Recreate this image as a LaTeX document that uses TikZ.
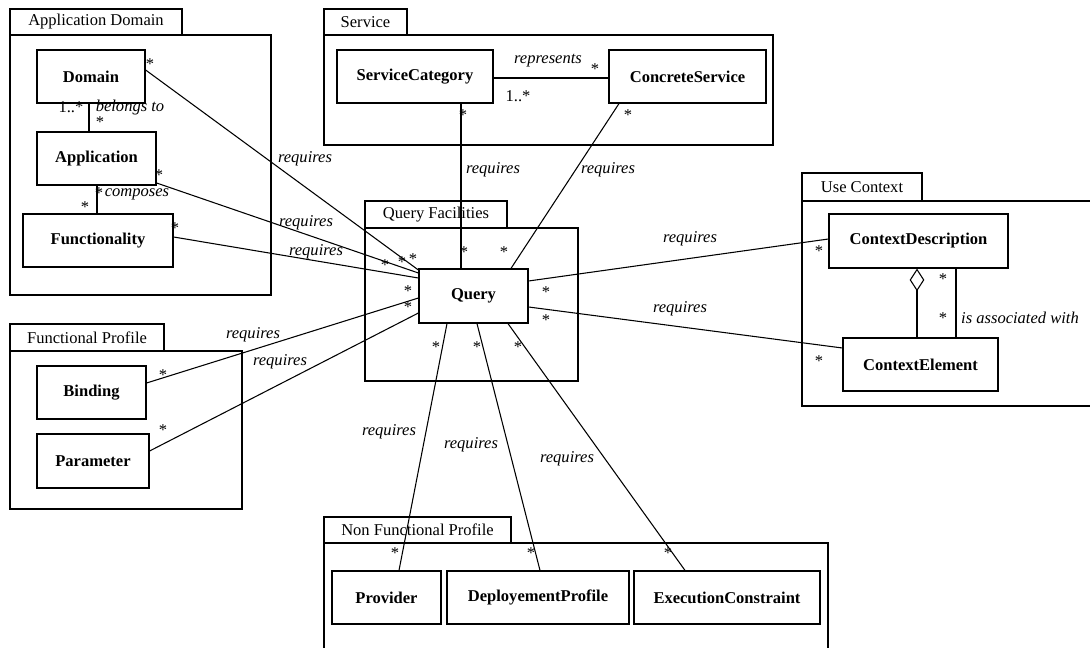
\documentclass[tikz,border=0pt]{standalone}
\usepackage{fontspec}
\setmainfont{Liberation Serif}
\usetikzlibrary{arrows.meta}
\begin{document}
\begin{tikzpicture}[x=0.75pt,y=-0.75pt,
  every node/.style={font=\fontsize{12.4}{14}\selectfont},
  sz/.style n args={2}{minimum width=#1*0.75pt, minimum height=#2*0.75pt},
  cls/.style={draw, line width=0.9pt, inner sep=0pt, font=\fontsize{12.4}{14}\selectfont\bfseries},
  tab/.style={draw, line width=0.9pt, inner sep=0pt},
  frm/.style={line width=0.9pt},
  lbl/.style={font=\fontsize{12.4}{14}\selectfont\itshape, inner sep=0pt},
  mult/.style={inner sep=0pt, yshift=-1.5pt},
  conn/.style={line width=0.8pt},
]
\useasboundingbox (0,0) rectangle (1090,648);

% ---------- packages (frames + tabs) ----------
\node[tab, sz={172}{26}] (tAD) at (96,22) {Application Domain};
\draw[frm] (10,35) rectangle (271,295);
\draw[line width=1.8pt] (10,35) -- (182,35);

\node[tab, sz={83}{26}] (tSV) at (365.5,22) {Service};
\draw[frm] (324,35) rectangle (773,145);
\draw[line width=1.8pt] (324,35) -- (407,35);

\node[tab, sz={142}{27}] (tQF) at (436,214.5) {Query Facilities};
\draw[frm] (365,228) rectangle (578,381);
\draw[line width=1.8pt] (365,228) -- (507,228);

\node[tab, sz={120}{28}] (tUC) at (862,187) {Use Context};
\draw[frm] (1092,201) -- (802,201) -- (802,406) -- (1092,406);
\draw[line width=1.8pt] (802,201) -- (922,201);

\node[tab, sz={154}{27}] (tFP) at (87,337.5) {Functional Profile};
\draw[frm] (10,351) rectangle (242,509);
\draw[line width=1.8pt] (10,351) -- (164,351);

\node[tab, sz={187}{26}] (tNF) at (417.5,530) {Non Functional Profile};
\draw[frm] (324,650) -- (324,543) -- (828,543) -- (828,650);
\draw[line width=1.8pt] (324,543) -- (511,543);

% ---------- classes ----------
\node[cls, sz={108}{53}] (dom) at (91,76.5) {Domain};
\node[cls, sz={119}{53}] (app) at (96.5,158.5) {Application};
\node[cls, sz={150}{53}] (fun) at (98,240.5) {Functionality};
\node[cls, sz={156}{53}] (sc) at (415,76.5) {ServiceCategory};
\node[cls, sz={157}{53}] (cs) at (687.5,76.5) {ConcreteService};
\node[cls, sz={109}{54}] (q) at (473.5,296) {Query};
\node[cls, sz={179}{54}] (cd) at (918.5,241) {ContextDescription};
\node[cls, sz={155}{53}] (ce) at (920.5,364.5) {ContextElement};
\node[cls, sz={109}{53}] (bind) at (91.5,392.5) {Binding};
\node[cls, sz={112}{54}] (par) at (93,461) {Parameter};
\node[cls, sz={109}{53}] (prov) at (386.5,597.5) {Provider};
\node[cls, sz={182}{53}] (dep) at (538,597.5) {DeployementProfile};
\node[cls, sz={186}{53}] (exe) at (727,597.5) {ExecutionConstraint};

% ---------- connectors ----------
\draw[conn] (dom.south -| 89,0) -- (app.north -| 89,0);
\draw[conn] (app.south -| 97,0) -- (fun.north -| 97,0);
\draw[conn] (sc.east |- 0,78) -- (cs.west |- 0,78);

\draw[conn] (dom.east |- 0,70) -- (q.west |- 0,270);
\draw[conn] (app.east |- 0,183) -- (q.west |- 0,273);
\draw[conn] (fun.east |- 0,237) -- (q.west |- 0,278);
\draw[conn] (bind.east |- 0,383) -- (q.west |- 0,298);
\draw[conn] (par.east |- 0,451) -- (q.west |- 0,313);

\draw[conn] (sc.south -| 461,0) -- (q.north -| 461,0);
\draw[conn] (cs.south -| 619,0) -- (q.north -| 511,0);

\draw[conn] (q.east |- 0,281) -- (cd.west |- 0,239);
\draw[conn] (q.east |- 0,307) -- (ce.west |- 0,348);

\draw[conn, -{Diamond[open, length=17pt, width=11pt, line width=0.8pt]}] (ce.north -| 917,0) -- (cd.south -| 917,0);
\draw[conn] (cd.south -| 956,0) -- (ce.north -| 956,0);

\draw[conn] (q.south -| 447,0) -- (prov.north -| 399,0);
\draw[conn] (q.south -| 477,0) -- (dep.north -| 540,0);
\draw[conn] (q.south -| 508,0) -- (exe.north -| 685,0);

% ---------- role labels ----------
\node[lbl] (r1) at (305,159) {requires};
\node[lbl] (r2) at (306,223) {requires};
\node[lbl] (r3) at (316,252) {requires};
\node[lbl] (r4) at (253,335) {requires};
\node[lbl] (r5) at (280,362) {requires};
\node[lbl] (r6) at (493,170) {requires};
\node[lbl] (r7) at (608,170) {requires};
\node[lbl] (r8) at (690,239) {requires};
\node[lbl] (r9) at (680,309) {requires};
\node[lbl] (r10) at (389,432) {requires};
\node[lbl] (r11) at (471,445) {requires};
\node[lbl] (r12) at (567,459) {requires};
\node[lbl] (rep) at (548,61) {represents};
\node[lbl] (bel) at (130,108) {belongs to};
\node[lbl] (comp) at (137,194) {composes};
\node[lbl] (iaw) at (1020,318) {is associated with};
\node[inner sep=0pt] (m1) at (71,107) {1..*};
\node[inner sep=0pt] (m2) at (518,96) {1..*};

% ---------- multiplicity stars ----------
\foreach \n/\x/\y in {s1/150/62, s2/159/173, s3/175/226, s4/100/120, s5/99/191, s6/85/205,
  s7/385/263, s8/402/260, s9/413/257, s10/408/289, s11/408/305,
  s12/463/113, s13/628/113, s14/595/67, s15/464/250, s16/504/250,
  s17/546/290, s18/546/318, s19/819/249, s20/819/359, s21/943/277, s22/943/316,
  s23/163/373, s24/163/428, s25/436/345, s26/477/345, s27/518/345,
  s28/395/551, s29/531/551, s30/668/551}
  \node[mult] (\n) at (\x,\y) {*};
\end{tikzpicture}
\end{document}
